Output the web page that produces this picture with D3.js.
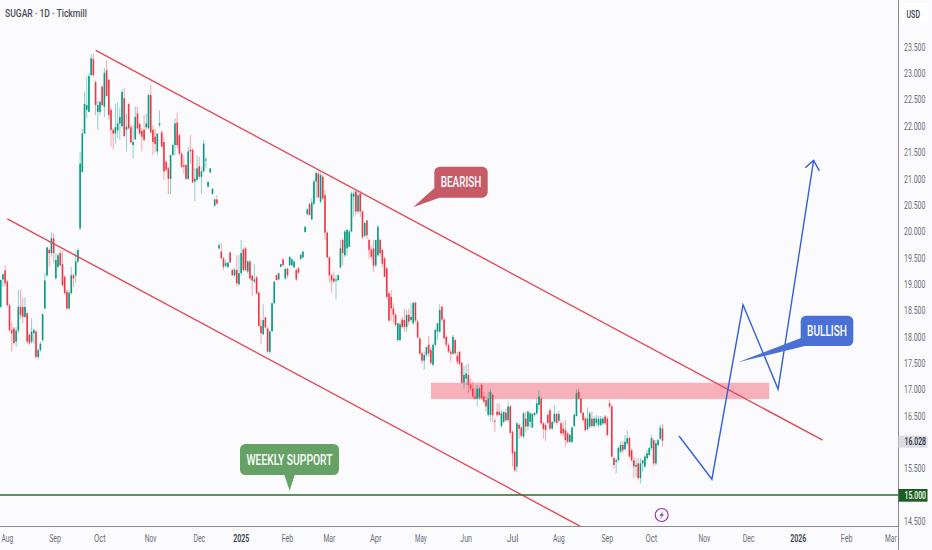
<!DOCTYPE html>
<html><head><meta charset="utf-8">
<script src="https://cdn.jsdelivr.net/npm/d3@7"></script>
<style>html,body{margin:0;padding:0;background:#fbfbfe;overflow:hidden}svg{display:block}text{font-family:Roboto,"Noto Sans",sans-serif}</style>
</head><body><svg id="c" width="932" height="550"></svg>
<script>
const opens=[18.57,19.09,19.26,19.05,18.6,18.13,18.16,17.91,18.12,18.57,18.57,18.38,18.45,18.04,17.91,18.07,18.1,17.62,17.75,17.94,18.54,19.17,19.65,19.59,19.87,19.11,19.33,19.59,19.38,19.14,18.86,18.54,18.83,19.17,19.17,19.43,20.06,21.13,21.86,22.31,22.27,22.97,23.27,22.84,22.27,22.27,22.75,22.37,23.06,22.88,22.31,21.93,21.86,21.92,22.05,22.0,22.53,21.93,22.42,21.98,21.64,21.75,22.24,22.04,21.91,21.93,21.98,21.96,22.59,21.93,21.8,21.52,22.02,21.88,21.7,21.32,21.2,21.0,21.45,21.64,22.07,21.83,21.48,21.26,21.26,21.0,21.55,21.55,20.95,20.98,21.24,21.04,21.14,21.36,20.85,21.12,20.71,20.49,20.61,
19.68,19.62,19.49,19.35,19.33,19.6,19.27,19.17,19.27,19.0,19.21,19.66,19.68,19.24,19.43,19.16,19.05,19.13,18.84,18.21,18.05,18.37,18.16,17.72,18.11,18.64,19.17,19.09,19.33,19.47,19.11,19.29,19.36,19.36,19.32,19.27,19.3,19.48,19.51,19.99,20.33,20.52,20.23,20.53,20.95,21.1,20.57,21.04,20.69,19.98,19.51,19.17,19.11,19.07,19.08,19.32,19.84,19.55,19.68,19.71,20.0,20.66,20.76,20.38,20.72,20.38,19.92,20.21,19.84,19.66,19.68,19.36,19.55,19.84,19.65,19.49,19.3,18.83,18.76,18.54,18.42,17.94,17.94,18.33,18.32,18.19,18.42,18.32,18.26,18.65,18.29,17.97,17.69,17.55,17.66,17.85,17.75,17.47,17.85,18.1,18.1,18.57,18.33,18.0,17.85,17.72,17.68,17.94,17.64,17.72,17.51,17.13,17.21,17.28,17.09,17.02,16.87,16.83,16.85,17.09,16.87,16.8,16.52,16.52,16.9,16.41,16.58,16.58,16.31,16.39,16.56,16.42,16.68,16.2,15.82,15.54,16.33,16.28,16.11,16.45,16.3,16.39,16.28,16.52,16.55,16.71,16.83,16.36,16.33,16.52,16.61,16.26,16.39,16.54,16.41,16.36,16.26,16.23,16.17,16.01,16.01,16.31,16.5,16.96,16.83,16.56,16.45,16.25,16.3,16.45,16.31,16.37,16.33,16.33,16.36,16.49,16.45,16.74,16.68,15.7,15.63,15.66,15.82,15.95,15.87,15.98,16.08,15.85,15.66,15.54,15.6,15.32,15.6,15.54,15.7,15.76,15.89,16.04,15.6,15.95,16.07,16.26];
const highs=[19.09,19.2,19.36,19.08,18.64,18.29,18.19,18.19,18.89,18.89,18.75,18.75,18.48,18.07,18.35,18.16,18.13,17.78,17.91,18.45,19.21,19.7,19.68,19.98,19.97,19.59,19.59,19.65,19.63,19.17,18.89,18.89,19.33,19.2,19.62,19.68,21.51,21.94,22.65,22.94,23.01,23.37,23.38,22.86,22.48,22.5,22.78,23.1,23.25,22.9,22.34,21.96,22.43,22.46,22.34,22.7,22.72,22.24,22.44,22.02,22.02,22.37,22.37,22.07,21.96,22.21,22.24,22.62,22.78,22.02,21.96,21.86,22.3,21.93,21.8,21.36,21.23,21.45,21.67,22.15,22.26,21.86,21.52,21.45,21.29,21.61,21.83,21.58,21.2,21.45,21.42,21.23,21.74,21.42,20.95,21.2,20.82,20.63,20.69,
19.78,19.78,19.52,19.46,19.42,19.62,19.3,19.3,19.55,19.55,19.84,19.7,19.71,19.46,19.46,19.18,19.38,19.16,18.86,18.33,18.62,18.38,18.19,18.14,18.65,19.05,19.19,19.22,19.38,19.49,19.32,19.32,19.53,19.5,19.46,19.3,19.33,19.57,19.63,20.1,20.44,20.55,20.63,20.98,21.14,21.14,21.12,21.09,20.79,20.0,19.53,19.2,19.24,19.17,19.2,19.84,19.87,20.03,20.04,20.04,20.76,20.78,20.8,20.78,20.78,20.41,20.19,20.22,19.87,19.72,19.84,19.84,20.12,19.87,19.68,19.52,19.33,18.84,18.89,18.64,18.45,18.26,18.29,18.38,18.54,18.51,18.54,18.64,18.65,18.67,18.33,18.0,17.72,17.72,17.81,18.02,17.81,17.88,18.16,18.26,18.62,18.6,18.36,18.04,17.88,17.78,18.04,17.97,17.72,17.73,17.53,17.44,17.47,17.5,17.21,17.15,17.02,17.09,17.06,17.12,16.96,16.87,16.96,17.02,16.93,16.45,16.74,16.74,16.61,16.58,16.64,16.77,16.71,16.23,15.85,16.39,16.36,16.31,16.58,16.58,16.61,16.58,16.55,16.56,16.83,16.99,16.87,16.39,16.36,16.55,16.64,16.39,16.71,16.56,16.6,16.41,16.39,16.42,16.2,16.17,16.3,16.55,17.01,17.02,16.85,16.58,16.49,16.66,16.58,16.58,16.5,16.52,16.5,16.5,16.49,16.52,16.49,16.8,16.71,15.73,15.7,15.92,16.01,16.03,16.14,16.23,16.11,15.88,15.73,15.7,15.7,15.7,15.66,15.76,15.85,15.92,16.14,16.07,16.04,16.07,16.33,16.34];
const lows=[18.54,18.95,18.95,18.57,18.1,17.72,17.85,17.81,18.07,18.35,18.26,18.35,17.87,17.85,17.87,17.88,17.59,17.57,17.72,17.91,18.52,19.14,19.33,19.52,19.4,19.09,19.3,19.33,18.95,18.8,18.51,18.52,18.8,18.95,19.02,19.4,20.03,21.12,21.85,22.15,22.27,22.94,22.94,22.21,21.93,22.21,22.38,22.17,22.57,22.12,21.61,21.56,21.67,21.77,21.74,21.96,21.8,21.52,21.93,21.68,21.39,21.74,21.93,21.83,21.52,21.7,21.93,21.94,21.86,21.45,21.5,21.45,21.98,21.61,20.98,21.14,20.71,20.71,21.45,21.45,21.58,21.45,21.2,21.1,20.98,20.98,21.29,20.93,20.58,20.95,21.0,20.71,21.12,21.2,20.84,21.11,20.71,20.48,20.52,
19.66,19.48,19.27,19.32,19.3,19.41,19.16,19.14,18.97,18.97,19.17,19.24,19.24,19.2,19.08,18.78,19.02,18.81,18.19,17.87,18.04,18.16,17.69,17.68,18.09,18.62,19.07,19.07,19.32,19.35,19.08,19.11,19.35,19.35,19.3,19.07,19.19,19.46,19.49,19.98,20.31,20.31,20.22,20.5,20.63,20.63,20.53,20.6,19.84,19.49,19.03,18.84,19.02,18.71,19.05,19.3,19.36,19.52,19.54,19.7,19.98,20.28,20.31,20.34,20.28,19.85,19.89,19.85,19.49,19.46,19.24,19.32,19.52,19.52,19.32,19.14,18.73,18.29,18.31,18.26,18.19,17.91,17.91,18.16,18.1,18.1,18.23,18.29,18.23,18.27,17.97,17.66,17.49,17.38,17.62,17.62,17.47,17.44,17.82,17.94,18.08,18.29,17.97,17.81,17.69,17.53,17.66,17.66,17.47,17.45,17.11,17.02,17.09,16.93,16.96,16.83,16.8,16.69,16.8,16.8,16.74,16.58,16.49,16.39,16.39,16.2,16.49,16.5,16.28,16.36,16.39,16.39,16.16,15.54,15.44,15.44,16.07,16.09,16.07,16.2,16.23,16.28,16.27,16.49,16.52,16.61,16.33,16.07,16.03,16.35,16.23,16.23,16.36,16.33,16.36,16.14,16.11,15.92,15.97,15.98,15.98,16.28,16.49,16.8,16.54,16.39,16.2,16.22,16.27,16.28,16.28,16.31,16.28,16.3,16.33,16.33,16.11,16.64,15.7,15.5,15.41,15.63,15.79,15.79,15.84,15.95,15.7,15.63,15.32,15.34,15.28,15.22,15.44,15.51,15.66,15.73,15.85,15.54,15.57,15.92,16.04,15.92];
const closes=[19.08,19.19,19.02,18.6,18.13,18.07,17.88,18.12,18.57,18.42,18.38,18.57,17.91,17.88,18.1,18.13,17.62,17.75,17.87,18.43,19.07,19.7,19.59,19.87,19.59,19.46,19.55,19.36,18.98,18.83,18.54,18.84,19.17,19.11,19.43,19.65,21.29,21.86,22.42,22.4,22.95,23.29,22.97,22.4,22.4,22.46,22.4,23.01,22.57,22.21,21.93,21.86,21.98,22.05,22.17,22.65,21.81,21.99,21.96,21.69,21.7,22.17,21.96,21.86,21.8,21.74,22.05,22.59,21.88,21.7,21.66,21.86,22.05,21.61,21.14,21.17,21.0,21.45,21.64,22.05,21.64,21.48,21.23,21.23,21.0,21.52,21.52,20.93,21.0,21.2,21.04,21.14,21.67,21.37,20.94,21.2,20.81,20.61,20.53,
19.74,19.49,19.33,19.4,19.41,19.41,19.17,19.28,19.02,19.21,19.59,19.27,19.27,19.43,19.11,19.07,19.09,18.82,18.21,18.07,18.32,18.18,17.72,18.1,18.64,19.05,19.08,19.21,19.38,19.36,19.29,19.17,19.52,19.47,19.43,19.09,19.22,19.56,19.62,20.09,20.42,20.31,20.55,20.95,21.11,20.65,21.07,20.63,19.98,19.51,19.17,19.07,19.05,19.09,19.17,19.68,19.59,20.0,20.03,20.0,20.72,20.72,20.38,20.69,20.38,19.89,20.16,19.93,19.65,19.52,19.35,19.84,20.09,19.59,19.39,19.14,18.76,18.31,18.54,18.42,18.23,18.26,18.24,18.19,18.19,18.42,18.29,18.38,18.65,18.31,17.99,17.68,17.55,17.66,17.81,17.69,17.51,17.85,18.13,18.26,18.51,18.33,17.97,17.85,17.72,17.68,18.0,17.69,17.53,17.49,17.13,17.28,17.31,17.09,17.02,16.87,16.83,17.02,17.02,16.83,16.77,16.68,16.83,16.96,16.52,16.39,16.52,16.52,16.55,16.58,16.42,16.68,16.18,15.79,15.47,16.36,16.26,16.12,16.55,16.3,16.58,16.55,16.54,16.56,16.74,16.87,16.36,16.25,16.23,16.37,16.26,16.39,16.54,16.37,16.54,16.17,16.17,16.04,16.01,16.14,16.28,16.52,16.93,16.83,16.56,16.42,16.23,16.45,16.55,16.31,16.45,16.45,16.44,16.45,16.45,16.36,16.14,16.68,15.73,15.57,15.66,15.89,15.95,15.85,16.01,16.08,15.73,15.66,15.54,15.57,15.32,15.6,15.66,15.73,15.79,15.89,16.08,15.6,15.98,16.04,16.28,16.03];
const priceTicks=[23.5,23,22.5,22,21.5,21,20.5,20,19.5,19,18.5,18,17.5,17,16.5,15.5,14.5];
const monthLabels=["Aug","Sep","Oct","Nov","Dec","2025","Feb","Mar","Apr","May","Jun","Jul","Aug","Sep","Oct","Nov","Dec","2026","Feb","Mar"];
const monthBars=[3,24.6,45,68,90,109,130,149,170,190.5,211,232,253,275,295,319,339,361.5,383.5,403.5];
const upperChannel=[[43.06,23.44],[372.6,16.04]];
const lowerChannel=[[3,20.24],[262.6,14.41]];
const zoneBars=[195.06,348.4];
const zonePrices=[17.13,16.82];
const forecast=[[307.5,16.12],[322.4,15.30],[336.5,18.61],[352.4,17.01],[368.5,21.35]];
const arrowHead=[[364.7,21.21],[368.5,21.35],[371.1,21.15]];
const supportPrice=15, lastPrice=16.028;

const svg=d3.select("#c");
const x=d3.scaleLinear().domain([0,300]).range([0.7,662.5]);
const y=d3.scaleLinear().domain([15,23.5]).range([495,47.1]);
const GREEN="#089981",RED="#f23645",AXIS="#8a8a8e",TXT="#6a6d78";
const line=d3.line().x(d=>x(d[0])).y(d=>y(d[1]));

const defs=svg.append("defs");
defs.append("filter").attr("id","soft").attr("x","-5%").attr("y","-5%").attr("width","110%").attr("height","110%").append("feGaussianBlur").attr("stdDeviation",.35);

// text that is squeezed horizontally to a measured width (the reference's type is condensed)
function label(px,py,str,fs,weight,fill,w,anchor){
  const t=svg.append("text").attr("text-anchor",anchor||"start").attr("font-size",fs).attr("font-weight",weight).attr("fill",fill).text(str);
  const k=w/t.node().getComputedTextLength();
  t.attr("transform",`translate(${px},${py}) scale(${k},1)`);
  return t;
}

svg.append("rect").attr("x",x(zoneBars[0])).attr("y",y(zonePrices[0])).attr("width",x(zoneBars[1])-x(zoneBars[0])).attr("height",y(zonePrices[1])-y(zonePrices[0])).attr("fill","#f6b1ba");

const bars=d3.range(closes.length).map(i=>({i,o:opens[i],h:highs[i],l:lows[i],c:closes[i]}));
const g=svg.append("g").attr("filter","url(#soft)");
g.selectAll("line").data(bars).join("line").attr("x1",d=>x(d.i)).attr("x2",d=>x(d.i)).attr("y1",d=>y(d.h)).attr("y2",d=>y(d.l)).attr("stroke",d=>d.c>=d.o?GREEN:RED).attr("stroke-width",.8).attr("stroke-opacity",.55);
g.selectAll("rect").data(bars).join("rect").attr("x",d=>x(d.i)-.8).attr("width",1.6).attr("y",d=>Math.min(y(d.o),y(d.c))).attr("height",d=>Math.max(1.2,Math.abs(y(d.o)-y(d.c)))).attr("fill",d=>d.c>=d.o?GREEN:RED);

svg.append("path").attr("d",line(upperChannel)).attr("fill","none").attr("stroke","#e2485a").attr("stroke-width",1.4);
svg.append("path").attr("d",line(lowerChannel)).attr("fill","none").attr("stroke","#e2485a").attr("stroke-width",1.4);
svg.append("line").attr("x1",0).attr("x2",898).attr("y1",y(supportPrice)).attr("y2",y(supportPrice)).attr("stroke","#2d6a2f").attr("stroke-width",1.5);
svg.append("path").attr("d",line(forecast)).attr("fill","none").attr("stroke","#3560dc").attr("stroke-width",1.4);
svg.append("path").attr("d",line(arrowHead)).attr("fill","none").attr("stroke","#3560dc").attr("stroke-width",1.4);

function callout(str,box,tail,fill,tw){
  svg.append("polygon").attr("points",tail.map(p=>p.join(",")).join(" ")).attr("fill",fill);
  svg.append("rect").attr("x",box[0]).attr("y",box[1]).attr("width",box[2]).attr("height",box[3]).attr("rx",5.5).attr("fill",fill);
  label(box[0]+box[2]/2,box[1]+box[3]/2+5,str,14,500,"#fff",tw,"middle");
}
callout("BEARISH",[434.3,166.7,53.4,31],[[x(186.9),y(20.46)],[434.5,188],[440,197.5]],"#c65a67",40.7);
callout("BULLISH",[800.7,315.7,52.6,30.3],[[x(334.2),y(17.52)],[801,338],[806,345.8]],"#4a70d6",40);
callout("WEEKLY SUPPORT",[240,444,99,31],[[x(131),y(15.08)],[284,474],[295,474]],"#66a266",86);

// icon
const ic=svg.append("g").attr("transform","translate(661.7,515)");
ic.append("circle").attr("r",6.5).attr("fill","none").attr("stroke","#9c27b0").attr("stroke-width",1.1);
ic.append("path").attr("d","M1.5,-4 L-2.4,0.8 L-0.2,0.8 L-1.3,4 L2.4,-0.8 L0.2,-0.8 Z").attr("fill","#7b5a8a");

// axes
svg.append("rect").attr("x",898).attr("y",0).attr("width",34).attr("height",550).attr("fill","#fbfbfe");
svg.append("line").attr("x1",898.5).attr("x2",898.5).attr("y1",0).attr("y2",550).attr("stroke",AXIS);
svg.append("line").attr("x1",0).attr("x2",898).attr("y1",526.5).attr("y2",526.5).attr("stroke",AXIS);

priceTicks.forEach(t=>label(904,y(t)+3.7,t.toFixed(3),10.5,400,TXT,21.5));
svg.append("rect").attr("x",898.5).attr("y",435.7).attr("width",29).attr("height",12).attr("fill","#dcdde1");
label(904.5,445.4,lastPrice.toFixed(3),10.5,500,"#2a2e39",21.5);
svg.append("rect").attr("x",898.5).attr("y",489).attr("width",29).attr("height",12.7).attr("fill","#1b5e20");
label(904.5,499.2,supportPrice.toFixed(3),10.5,500,"#fff",21.5);
svg.append("rect").attr("x",902).attr("y",3).attr("width",26).attr("height",20).attr("fill","#fff");
label(906.5,18,"USD",10.5,500,"#3a3e49",13.5);

monthLabels.forEach((m,i)=>{
  const major=/^\d/.test(m);
  label(x(monthBars[i]),542,m,10.5,major?600:400,major?"#3a3e49":TXT,major?16:m.length*3.9,"middle");
});
label(5,17,"SUGAR · 1D · Tickmill",11.5,500,"#4a4e59",82);
</script></body></html>
